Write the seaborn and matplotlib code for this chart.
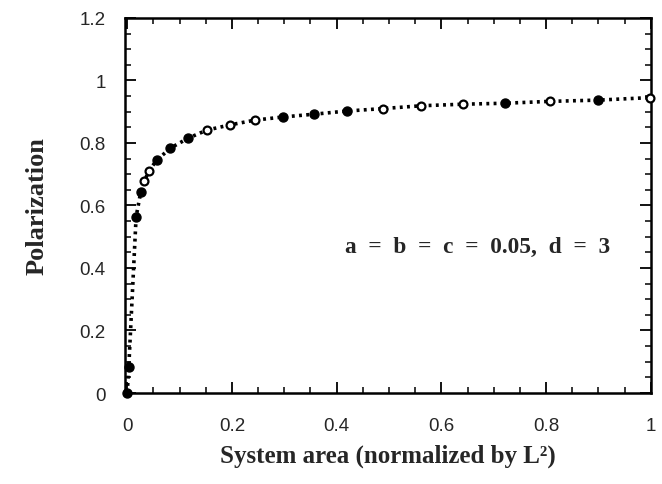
import matplotlib.pyplot as plt
import numpy as np
import pandas as pd
import seaborn as sns
from matplotlib.ticker import MultipleLocator

# values
area = [0.0, 0.003, 0.017, 0.026, 0.033, 0.041, 0.056, 0.082, 0.116, 0.152, 0.197,
        0.244, 0.297, 0.357, 0.419, 0.489, 0.562, 0.642, 0.721, 0.807, 0.899, 0.998]
polarization = [0.0, 0.084, 0.564, 0.644, 0.678, 0.710, 0.744, 0.783, 0.815, 0.841, 0.858,
                0.873, 0.883, 0.892, 0.902, 0.910, 0.919, 0.924, 0.927, 0.933, 0.937, 0.945]
filled = [True, True, True, True, False, False, True, True, True, False, False,
          False, True, True, True, False, False, False, True, False, True, False]

df = pd.DataFrame({"area": area, "pol": polarization, "filled": filled})

sns.set_theme(style="ticks")
plt.rcParams["font.family"] = ["Liberation Sans", "DejaVu Sans"]

fig = plt.figure(figsize=(6.62, 4.85), dpi=100)
ax = fig.add_axes([0.189, 0.1876, 0.794, 0.7734])

# dotted curve through the points
sns.lineplot(data=df, x="area", y="pol", ax=ax, color="black",
             linestyle=(0, (0.8, 1.2)), linewidth=2.6, sort=False, legend=False)
# filled and open markers
sns.scatterplot(data=df[df["filled"]], x="area", y="pol", ax=ax, color="black",
                edgecolor="black", s=42, linewidth=1.0, zorder=3, legend=False,
                clip_on=False)
sns.scatterplot(data=df[~df["filled"]], x="area", y="pol", ax=ax, color="white",
                edgecolor="black", s=32, linewidth=1.6, zorder=3, legend=False,
                clip_on=False)

ax.set_xlim(-0.004, 1.0)
ax.set_ylim(0, 1.2)
ax.xaxis.set_major_locator(MultipleLocator(0.2))
ax.xaxis.set_minor_locator(MultipleLocator(0.05))
ax.yaxis.set_major_locator(MultipleLocator(0.2))
ax.yaxis.set_minor_locator(MultipleLocator(0.05))
ax.xaxis.set_major_formatter(lambda v, p: f"{v:g}")
ax.yaxis.set_major_formatter(lambda v, p: f"{v:g}")

ax.tick_params(which="both", direction="in", top=True, right=True, color="black")
ax.tick_params(which="major", length=8, width=1.3, labelsize=13.5)
ax.tick_params(which="minor", length=4.5, width=1.1)
ax.tick_params(axis="x", which="major", pad=17)
ax.tick_params(axis="y", which="major", pad=14)
for sp in ax.spines.values():
    sp.set_linewidth(1.8)
    sp.set_color("black")

ax.set_xlabel("System area (normalized by L²)", fontsize=18,
              fontweight="bold", family="Liberation Serif", labelpad=7)
ax.set_ylabel("Polarization", fontsize=19, fontweight="bold",
              family="Liberation Serif", labelpad=22)
ax.text(0.67, 0.468, "a  =  b  =  c  =  0.05,  d  =  3", transform=ax.transData,
        ha="center", va="center", fontsize=16.8, fontweight="bold",
        family="Liberation Serif")

fig.savefig("out.png", dpi=100)
